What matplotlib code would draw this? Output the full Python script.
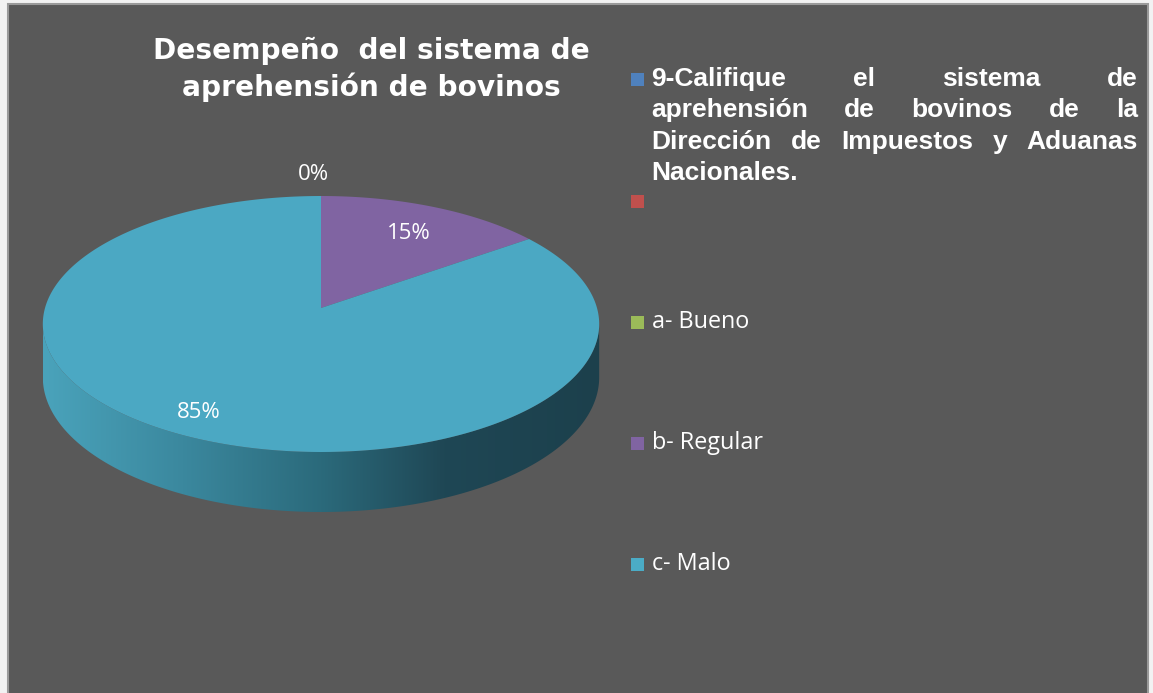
import numpy as np
import matplotlib
matplotlib.use("Agg")
import matplotlib.pyplot as plt
from matplotlib.patches import Polygon, Rectangle
from matplotlib.colors import LinearSegmentedColormap

# ---------------- data ----------------
title = "Desempeño  del sistema de\naprehensión de bovinos"
legend_labels = [
    "9-Califique el sistema de\naprehensión de bovinos de la\nDirección de Impuestos y Aduanas\nNacionales.",
    "",
    "a- Bueno",
    "b- Regular",
    "c- Malo",
]
legend_colors = ["#4F81BD", "#C0504D", "#9BBB59", "#8064A2", "#4BACC6"]
categories = ["a- Bueno", "b- Regular", "c- Malo"]
values = [0, 15, 85]
slice_colors = ["#9BBB59", "#8064A2", "#4BA8C3"]

# ---------------- figure ----------------
W, H = 1153, 693
fig = plt.figure(figsize=(W / 100, H / 100), dpi=100, facecolor="#f2f2f2")
ax = fig.add_axes([0, 0, 1, 1])
ax.axis("off")

ax.add_patch(Rectangle((8, 4), 1140, 700, facecolor="#595959",
                       edgecolor="#9a9a9a", lw=1.5, zorder=0))

# 3D pie geometry (pixel space)
cx, cy = 321, 308
A, B = 276, 126
p = 0.125
depth = 52.5


def proj(phi_deg, r=1.0, z=0.0):
    phi = np.radians(phi_deg)
    u = r * np.sin(phi)
    v = r * np.cos(phi)
    d = 1 + p * v
    return cx + A * u / d, cy - B * v / d + z / d


# side wall (front part, visible)
phi0 = np.degrees(np.arccos(-p))
ang = np.linspace(phi0, 360 - phi0, 300)
tx, ty = proj(ang)
bx, by = proj(ang[::-1], z=depth)
side_xy = np.column_stack([np.concatenate([tx, bx]), np.concatenate([ty, by])])
side_poly = Polygon(side_xy, closed=True, facecolor="none", edgecolor="none")
ax.add_patch(side_poly)
cmap = LinearSegmentedColormap.from_list(
    "side", [(0.0, "#4aa3bb"), (0.25, "#3b889e"), (0.5, "#2b6a7b"),
             (0.72, "#1f4755"), (1.0, "#1c404c")])
grad = np.linspace(0, 1, 256).reshape(1, -1)
xmin, xmax = side_xy[:, 0].min(), side_xy[:, 0].max()
ymin, ymax = side_xy[:, 1].min(), side_xy[:, 1].max()
im = ax.imshow(grad, cmap=cmap, extent=(xmin, xmax, ymax, ymin),
               aspect="auto", zorder=1, interpolation="bicubic")
im.set_clip_path(side_poly)

# top surface slices (start at 12 o'clock, clockwise)
total = sum(values)
start = 0.0
mids = []
for val, col in zip(values, slice_colors):
    span = 360.0 * val / total
    mids.append(start + span / 2)
    if span > 0:
        a = np.linspace(start, start + span, max(int(span * 2), 2))
        x, y = proj(a)
        xs = np.concatenate([[cx], x])
        ys = np.concatenate([[cy], y])
        ax.add_patch(Polygon(np.column_stack([xs, ys]), closed=True,
                             facecolor=col, edgecolor="none", zorder=2))
    start += span

# data labels
label_r = [1.22, 0.72, 0.84]
label_dx = [-8, 4, -6]
for val, mid, r, dx in zip(values, mids, label_r, label_dx):
    lx, ly = proj(mid, r=r)
    ax.text(lx + dx, ly, f"{val}%", color="white", fontsize=16,
            family="Open Sans", ha="center", va="center", zorder=3)

# title
ax.text(371, 69, title, color="white", fontsize=20.2, fontweight="bold",
        family="DejaVu Sans", ha="center", va="center", linespacing=1.32,
        zorder=3)

# legend
leg_y = [79, 201, 322, 443, 564]
mk = 13
tx0, tx1 = 651, 1138
ax.set_xlim(0, W)
ax.set_ylim(H, 0)
fig.canvas.draw()
renderer = fig.canvas.get_renderer()

for i, (lab, col, y) in enumerate(zip(legend_labels, legend_colors, leg_y)):
    ax.add_patch(Rectangle((637 - mk / 2, y - mk / 2), mk, mk,
                           facecolor=col, edgecolor="none", zorder=3))
    if i == 0:
        lines = lab.split("\n")
        for j, line in enumerate(lines):
            ly = y + j * 31.3
            words = line.split(" ")
            if j == len(lines) - 1 or len(words) == 1:
                ax.text(tx0, ly, line, color="white", fontsize=19,
                        fontweight="bold", family="Liberation Sans",
                        ha="left", va="center", zorder=3)
                continue
            objs = [ax.text(tx0, ly, w, color="white", fontsize=19,
                            fontweight="bold", family="Liberation Sans",
                            ha="left", va="center", zorder=3) for w in words]
            widths = [o.get_window_extent(renderer).width for o in objs]
            gap = (tx1 - tx0 - sum(widths)) / (len(words) - 1)
            xpos = tx0
            for o, wd in zip(objs, widths):
                o.set_x(xpos)
                xpos += wd + gap
    elif lab:
        ax.text(tx0 + 1, y, lab, color="white", fontsize=16.8,
                family="Open Sans", ha="left", va="center", zorder=3)

ax.set_xlim(0, W)
ax.set_ylim(H, 0)
fig.savefig("out.png", dpi=100, facecolor=fig.get_facecolor())
